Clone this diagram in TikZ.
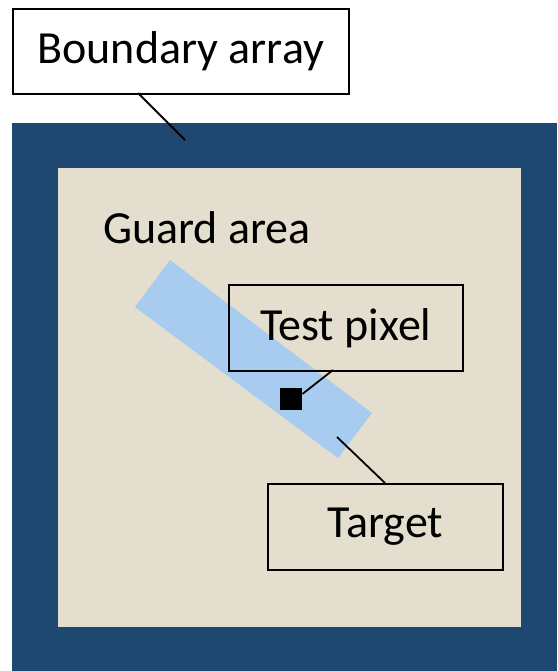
\documentclass[tikz,border=0pt]{standalone}
\usepackage{fontspec}
\setmainfont{Carlito}
\definecolor{darkblue}{HTML}{1F4870}
\definecolor{beige}{HTML}{E3DECD}
\definecolor{lightblue}{HTML}{A8CBF0}
\tikzset{
  bigtext/.style={font=\fontsize{46}{54}\selectfont},
  labelbox/.style={draw=black, line width=1.6pt, inner sep=0pt, bigtext, text=black, anchor=north west},
  leader/.style={draw=black, line width=1.8pt},
}
\begin{document}
\begin{tikzpicture}[x=1pt,y=-1pt]
\useasboundingbox (0,0) rectangle (557,671);
\fill[white] (0,0) rectangle (557,671);
% outer boundary array
\fill[darkblue] (12,123) rectangle (557,671);
% guard area
\fill[beige] (58,168) rectangle (521,627);
\node[bigtext, anchor=west, inner sep=0pt] (guard) at (103,228) {Guard area};
% target strip
\fill[lightblue] (170,260) -- (372,413) -- (338,458) -- (135,307) -- cycle;
% boxes
\node[labelbox, fill=white, minimum width=336, minimum height=85] (boundary) at (12,8) {Boundary array};
\node[labelbox, minimum width=234, minimum height=86] (test) at (228,284) {Test pixel};
\node[labelbox, minimum width=235, minimum height=86] (target) at (267,483) {Target};
% test pixel square
\node[fill=black, minimum width=22, minimum height=22, inner sep=0pt, anchor=north west] (pixel) at (280,388) {};
% leader endpoints
\coordinate (bpt) at (185,140);
\coordinate (tpt) at (337,437);
\coordinate (btop) at (138,93);
\coordinate (ttop) at (333,370);
\coordinate (gtop) at (385,483);
\draw[leader] (btop) -- (bpt);
\draw[leader] (pixel.north east) ++(0,6) -- (ttop);
\draw[leader] (tpt) -- (gtop);
\end{tikzpicture}
\end{document}
